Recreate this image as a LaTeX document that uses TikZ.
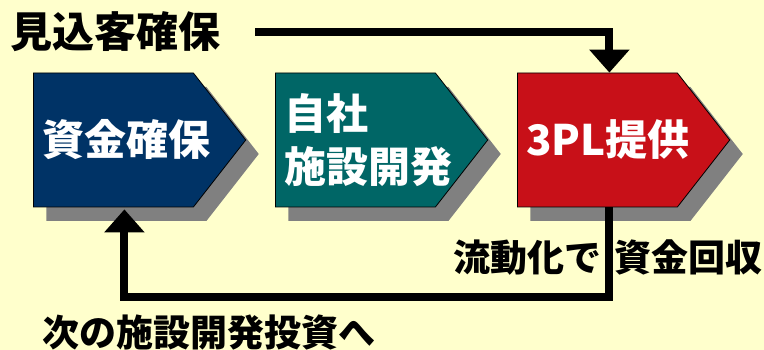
\documentclass[tikz,border=0pt]{standalone}
\usepackage{fontspec}
\newfontfamily\jp{Noto Sans CJK JP}
\usetikzlibrary{shapes.symbols,shadows,arrows.meta}
\definecolor{paper}{RGB}{255,255,204}
\definecolor{navy}{RGB}{0,51,102}
\definecolor{pine}{RGB}{0,102,102}
\definecolor{crimson}{RGB}{200,16,24}
\definecolor{shadegray}{RGB}{128,128,128}

\begin{document}
\begin{tikzpicture}[
    x=1pt, y=-1pt,
    stage/.style={signal, signal to=east, signal pointer angle=104,
        draw=black, line width=0.8pt, text width=142pt, align=left,
        inner xsep=9pt, inner ysep=0pt, minimum width=0pt, minimum height=134pt,
        text=white, font=\jp\bfseries\fontsize{42}{53}\selectfont, anchor=west,
        drop shadow={shadow xshift=13pt, shadow yshift=-14pt, fill=shadegray, opacity=1}},
    flow/.style={line width=8pt},
    caption/.style={font=\jp\bfseries\fontsize{#1}{#1}\selectfont, inner sep=0pt},
]
\fill[paper] (0,0) rectangle (764,350);
\node[caption=42, anchor=west] (prospect) at (10,32) {見込客確保};
\node[stage, fill=navy] (fund) at (33,140) {\mbox{資金確保}};
\node[stage, fill=pine] (build) at (275,140) {自社\\\mbox{施設開発}};
\node[stage, fill=crimson] (pl) at (517,140) {\mbox{3PL提供}};
\node[caption=37, anchor=east] (cash) at (763,258) {流動化で\hspace{13pt}資金回収};
\node[caption=37, anchor=west] (next) at (42,332) {次の施設開発投資へ};
% cycle
\draw[flow, -{Triangle[width=39pt,length=23pt]}] ([xshift=35pt]prospect.east) -| ([xshift=12pt]pl.north);
\draw[flow, -{Triangle[width=39pt,length=23pt]}] ([xshift=12pt]pl.south) -- ++(0,90) -| ([xshift=11pt, yshift=-2pt]fund.south);
\end{tikzpicture}
\end{document}
